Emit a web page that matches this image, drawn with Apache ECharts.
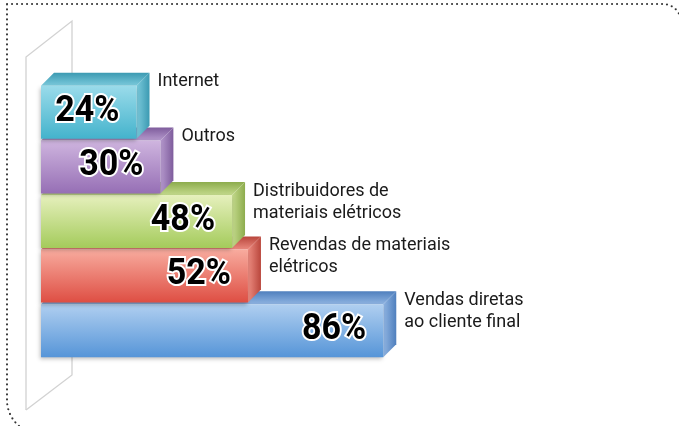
<!DOCTYPE html>
<html lang="pt">
<head>
<meta charset="UTF-8">
<title>Canais de venda</title>
<script src="https://cdn.jsdelivr.net/npm/echarts@6/dist/echarts.min.js"></script>
<style>
    html, body { margin: 0; padding: 0; background: #fff; }
    #main { width: 679px; height: 426px; }
</style>
</head>
<body>
<div id="main"></div>
<script>
// categorias de baixo para cima (a de baixo e desenhada primeiro)
var categories = ['Vendas diretas\nao cliente final', 'Revendas de materiais\nelétricos', 'Distribuidores de\nmateriais elétricos', 'Outros', 'Internet'];
var values = [86, 52, 48, 30, 24];
var valueLabels = ['86%', '52%', '48%', '30%', '24%'];

// cores de cada barra: frente (cima), frente (baixo), topo, lado
var faceColors = [
    ['#b0cff0', '#5695d8', '#8fb4e2', '#4f7fbd'],
    ['#f8ab9e', '#de4e43', '#ec8b80', '#b9463c'],
    ['#e6f0bd', '#a4cb5b', '#c4da8c', '#8dac4d'],
    ['#cfb5df', '#966fb5', '#b599cd', '#7e5c9c'],
    ['#9adbea', '#44b3cc', '#7bcadc', '#3c9ab2']
];

var dx = 13, dy = 13; // profundidade do efeito 3D

var myChart = echarts.init(document.getElementById('main'), null, { renderer: 'canvas' });

function renderBar(params, api) {
    var idx = api.value(0);
    var v = api.value(1);
    var start = api.coord([0, idx]);
    var end = api.coord([v, idx]);
    var h = api.size([0, 1])[1] * 0.97;
    var x0 = start[0], x1 = end[0];
    var yT = start[1] - h / 2, yB = start[1] + h / 2;
    var c = faceColors[params.dataIndex];
    return {
        type: 'group',
        children: [
            {
                type: 'polygon',
                shape: { points: [[x0, yT], [x0 + dx, yT - dy], [x1 + dx, yT - dy], [x1, yT]] },
                style: {
                    fill: new echarts.graphic.LinearGradient(0, 0, 0, 1, [
                        { offset: 0, color: c[3] }, { offset: 1, color: c[2] }
                    ])
                }
            },
            {
                type: 'polygon',
                shape: { points: [[x1, yT], [x1 + dx, yT - dy], [x1 + dx, yB - dy], [x1, yB]] },
                style: {
                    fill: new echarts.graphic.LinearGradient(0, 0, 1, 0, [
                        { offset: 0, color: c[2] }, { offset: 1, color: c[3] }
                    ])
                }
            },
            {
                type: 'rect',
                shape: { x: x0, y: yT, width: x1 - x0, height: yB - yT },
                style: {
                    fill: new echarts.graphic.LinearGradient(0, 0, 0, 1, [
                        { offset: 0, color: c[0] }, { offset: 1, color: c[1] }
                    ]),
                    shadowBlur: 4,
                    shadowOffsetX: -1,
                    shadowOffsetY: 2,
                    shadowColor: 'rgba(0,0,0,0.25)'
                }
            },
            {
                type: 'text',
                x: x1 - 17,
                y: (yT + yB) / 2 - 1,
                scaleX: 0.92,
                style: {
                    text: valueLabels[params.dataIndex],
                    x: 0,
                    y: 0,
                    align: 'right',
                    verticalAlign: 'middle',
                    font: "bold 37px Roboto, sans-serif",
                    fill: '#000',
                    stroke: '#fff',
                    lineWidth: 4
                }
            },
            {
                type: 'text',
                style: {
                    text: categories[idx],
                    x: x1 + dx + 8,
                    y: yT - 15,
                    align: 'left',
                    verticalAlign: 'top',
                    font: "18px Roboto, sans-serif",
                    lineHeight: 22,
                    fill: '#1a1a1a'
                }
            }
        ]
    };
}

var option = {
    animation: false,
    backgroundColor: '#fff',
    grid: { left: 41, right: 240, top: 85, bottom: 68 },
    xAxis: { type: 'value', min: 0, max: 100, show: false },
    yAxis: { type: 'category', data: categories, show: false },
    graphic: [
        // moldura pontilhada
        {
            type: 'rect',
            z: 0,
            shape: { x: 7, y: 4, width: 674, height: 430, r: [0, 18, 0, 34] },
            style: { fill: 'none', stroke: '#333', lineWidth: 2, lineDash: [0.1, 4.9], lineCap: 'round' }
        },
        // parede de fundo
        {
            type: 'polyline',
            z: 0,
            shape: { points: [[26, 410], [26, 57], [72, 21], [72, 80]] },
            style: { stroke: '#d2d2d2', lineWidth: 1.3, fill: 'none' }
        },
        {
            type: 'polyline',
            z: 0,
            shape: { points: [[26, 410], [72, 375], [72, 350]] },
            style: { stroke: '#d2d2d2', lineWidth: 1.3, fill: 'none' }
        }
    ],
    series: [{
        type: 'custom',
        renderItem: renderBar,
        encode: { x: 1, y: 0 },
        data: values.map(function (v, i) { return [i, v]; }),
        z: 5
    }]
};

myChart.setOption(option);
</script>
</body>
</html>
